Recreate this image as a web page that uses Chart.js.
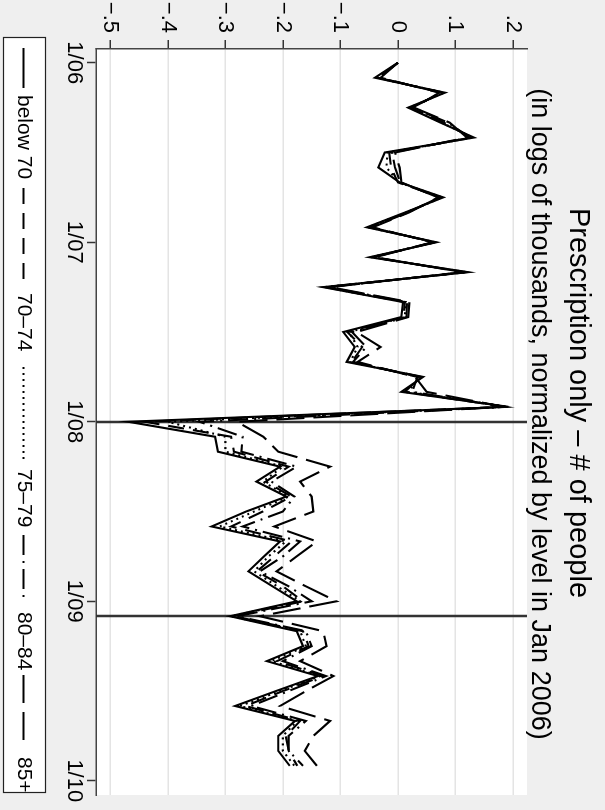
<!DOCTYPE html>
<html>
<head>
<meta charset="utf-8">
<script src="https://cdn.jsdelivr.net/npm/chart.js@4.4.1/dist/chart.umd.min.js"></script>
<style>
  html, body { margin: 0; padding: 0; background: #efefef; overflow: hidden; }
  /* the chart is laid out landscape and turned a quarter clockwise onto the portrait page */
  #frame {
    position: absolute; left: 0; top: 0;
    width: 810px; height: 605px;
    transform-origin: 0 0;
    transform: translate(605px, 0) rotate(90deg);
  }
  canvas { display: block; }
</style>
</head>
<body>
<div id="frame"><canvas id="c" width="810" height="605"></canvas></div>
<script>
// Monthly observations, Jan 2006 – Dec 2009
const months = [
  '2006-01','2006-02','2006-03','2006-04','2006-05','2006-06','2006-07','2006-08','2006-09','2006-10','2006-11','2006-12',
  '2007-01','2007-02','2007-03','2007-04','2007-05','2007-06','2007-07','2007-08','2007-09','2007-10','2007-11','2007-12',
  '2008-01','2008-02','2008-03','2008-04','2008-05','2008-06','2008-07','2008-08','2008-09','2008-10','2008-11','2008-12',
  '2009-01','2009-02','2009-03','2009-04','2009-05','2009-06','2009-07','2009-08','2009-09','2009-10','2009-11','2009-12'
];

// Log number of people (thousands), normalized to Jan 2006, by age group
const below70 = [
  0, -0.040, 0.082, 0.018, 0.074, 0.132, -0.023, -0.034, 0.003, 0.079, 0.013, -0.054,
  0.067, -0.049, 0.122, -0.130, 0.009, 0.006, -0.095, -0.075, -0.089, 0.044, 0.006, 0.192,
  -0.469, -0.318, -0.313, -0.205, -0.246, -0.194, -0.264, -0.324, -0.205, -0.233, -0.260, -0.218,
  -0.176, -0.292, -0.176, -0.165, -0.228, -0.139, -0.212, -0.283, -0.179, -0.208, -0.208, -0.188
];
const age70to74 = [
  0, -0.035, 0.078, 0.022, 0.080, 0.128, -0.015, -0.012, 0.000, 0.075, 0.016, -0.050,
  0.064, -0.045, 0.118, -0.126, 0.012, 0.010, -0.088, -0.062, -0.080, 0.040, 0.012, 0.188,
  -0.440, -0.290, -0.285, -0.190, -0.230, -0.185, -0.235, -0.290, -0.185, -0.215, -0.245, -0.200,
  -0.165, -0.285, -0.165, -0.155, -0.210, -0.130, -0.200, -0.265, -0.170, -0.195, -0.190, -0.175
];
const age75to79 = [
  0, -0.037, 0.080, 0.020, 0.076, 0.130, -0.018, -0.020, 0.002, 0.077, 0.015, -0.052,
  0.065, -0.047, 0.120, -0.128, 0.014, 0.012, -0.085, -0.070, -0.083, 0.038, 0.018, 0.190,
  -0.400, -0.300, -0.300, -0.200, -0.235, -0.190, -0.250, -0.310, -0.195, -0.225, -0.250, -0.210,
  -0.170, -0.290, -0.170, -0.160, -0.220, -0.135, -0.205, -0.275, -0.175, -0.200, -0.200, -0.180
];
const age80to84 = [
  0, -0.033, 0.075, 0.025, 0.087, 0.125, -0.010, -0.005, 0.004, 0.072, 0.018, -0.047,
  0.062, -0.043, 0.115, -0.122, 0.016, 0.015, -0.080, -0.055, -0.078, 0.034, 0.025, 0.186,
  -0.345, -0.270, -0.272, -0.176, -0.220, -0.180, -0.200, -0.270, -0.170, -0.200, -0.240, -0.190,
  -0.150, -0.280, -0.160, -0.150, -0.200, -0.125, -0.190, -0.255, -0.160, -0.190, -0.190, -0.165
];
const age85plus = [
  0, -0.030, 0.072, 0.028, 0.090, 0.120, -0.005, 0.003, 0.006, 0.070, 0.020, -0.044,
  0.060, -0.040, 0.112, -0.118, 0.020, 0.018, -0.072, -0.030, -0.070, 0.030, 0.050, 0.184,
  -0.280, -0.234, -0.208, -0.118, -0.170, -0.150, -0.147, -0.215, -0.141, -0.176, -0.211, -0.160,
  -0.107, -0.240, -0.130, -0.124, -0.170, -0.112, -0.160, -0.205, -0.118, -0.147, -0.162, -0.141
];

const seriesNames = ['below 70', '70–74', '75–79', '80–84', '85+'];

const xTickMonths = ['2006-01', '2007-01', '2008-01', '2009-01', '2010-01'];
const xTickLabels = ['1/06', '1/07', '1/08', '1/09', '1/10'];
const yTickValues = [-0.5, -0.4, -0.3, -0.2, -0.1, 0, 0.1, 0.2];
const yTickLabels = ['−.5', '−.4', '−.3', '−.2', '−.1', '0', '.1', '.2'];

// months marked with vertical reference lines
const markedMonths = ['2008-01', '2009-02'];

const titleText = 'Prescription only – # of people';
const subtitleText = '(in logs of thousands, normalized by level in Jan 2006)';

// ---------------------------------------------------------------------------
const FONT = '"Liberation Sans", Arial, Helvetica, sans-serif';
const dashes = [[], [16, 9], [2, 4], [20, 6, 2, 6], [28, 9]];
const seriesValues = [below70, age70to74, age75to79, age80to84, age85plus];

// month string -> position on the time axis (months since Jan 2006)
function monthPos(m) {
  const [y, mo] = m.split('-').map(Number);
  return (y - 2006) * 12 + (mo - 1);
}
const xTickValues = xTickMonths.map(monthPos);

const datasets = seriesValues.map((vals, k) => ({
  label: seriesNames[k],
  data: vals.map((v, i) => ({ x: monthPos(months[i]), y: v })),
  borderColor: '#000',
  borderWidth: 2.1,
  borderDash: dashes[k],
  pointRadius: 0,
  fill: false,
  tension: 0
}));

const decor = {
  id: 'decor',
  beforeDraw(chart) {
    const { ctx, chartArea: a, width, height } = chart;
    ctx.save();
    ctx.fillStyle = '#efefef';
    ctx.fillRect(0, 0, width, height);
    ctx.fillStyle = '#ffffff';
    ctx.fillRect(a.left, a.top, a.right - a.left, a.bottom - a.top);
    ctx.restore();
  },
  beforeDatasetsDraw(chart) {
    const { ctx, chartArea: a, scales } = chart;
    ctx.save();
    ctx.strokeStyle = '#333';
    ctx.lineWidth = 2.5;
    markedMonths.forEach(m => {
      const px = Math.round(scales.x.getPixelForValue(monthPos(m)));
      ctx.beginPath();
      ctx.moveTo(px, a.top);
      ctx.lineTo(px, a.bottom);
      ctx.stroke();
    });
    ctx.restore();
  },
  afterDraw(chart) {
    const { ctx } = chart;
    ctx.save();
    ctx.fillStyle = '#000';
    ctx.textAlign = 'center';
    ctx.textBaseline = 'middle';
    ctx.font = '29px ' + FONT;
    ctx.fillText(titleText, 403, 27);
    ctx.font = '27px ' + FONT;
    ctx.fillText(subtitleText, 414, 66);

    // legend
    const box = { left: 37, top: 559, right: 793, bottom: 602 };
    ctx.fillStyle = '#fff';
    ctx.fillRect(box.left, box.top, box.right - box.left, box.bottom - box.top);
    ctx.strokeStyle = '#222';
    ctx.lineWidth = 1.2;
    ctx.strokeRect(box.left + 0.5, box.top + 0.5, box.right - box.left - 1, box.bottom - box.top - 1);
    const cy = (box.top + box.bottom) / 2 + 1;
    const slots = [
      { s: [11, 51], t: 58 },
      { s: [151, 247], t: 256 },
      { s: [330, 426], t: 432 },
      { s: [498, 566], t: 575 },
      { s: [638, 708], t: 720 }
    ];
    ctx.font = '21px ' + FONT;
    ctx.textAlign = 'left';
    seriesNames.forEach((name, k) => {
      const sl = slots[k];
      ctx.strokeStyle = '#000';
      ctx.lineWidth = 2;
      ctx.setLineDash(dashes[k]);
      ctx.beginPath();
      ctx.moveTo(box.left + sl.s[0], cy);
      ctx.lineTo(box.left + sl.s[1], cy);
      ctx.stroke();
      ctx.setLineDash([]);
      ctx.fillStyle = '#000';
      ctx.fillText(name, box.left + sl.t, cy);
    });
    ctx.restore();
  }
};

new Chart(document.getElementById('c'), {
  type: 'line',
  data: { datasets },
  options: {
    responsive: false,
    animation: false,
    devicePixelRatio: 1,
    layout: { padding: { top: 78, right: 15, left: 0, bottom: 0 } },
    plugins: { legend: { display: false }, tooltip: { enabled: false }, title: { display: false } },
    scales: {
      x: {
        type: 'linear',
        min: -0.92,
        max: 48.95,
        afterBuildTicks: sc => { sc.ticks = xTickValues.map(v => ({ value: v })); },
        afterFit: sc => { sc.height = 96; },
        ticks: {
          callback: v => xTickLabels[xTickValues.indexOf(v)],
          font: { family: FONT, size: 22 },
          color: '#000',
          padding: 0,
          maxRotation: 0,
          autoSkip: false
        },
        grid: { drawOnChartArea: false, drawTicks: true, tickLength: 9, tickColor: '#333', tickWidth: 1.5 },
        border: { display: true, color: '#444', width: 1.5 }
      },
      y: {
        type: 'linear',
        min: -0.525,
        max: 0.2245,
        afterBuildTicks: sc => { sc.ticks = yTickValues.map(v => ({ value: v })); },
        afterFit: sc => { sc.width = 49; },
        ticks: {
          callback: v => yTickLabels[yTickValues.findIndex(t => Math.abs(t - v) < 1e-9)],
          font: { family: FONT, size: 22 },
          color: '#000',
          padding: 7,
          autoSkip: false
        },
        grid: { color: '#e4e4e4', lineWidth: 1.5, drawTicks: true, tickLength: 9, tickColor: '#333', tickWidth: 1.5 },
        border: { display: true, color: '#444', width: 1.5 }
      }
    }
  },
  plugins: [decor]
});
</script>
</body>
</html>
